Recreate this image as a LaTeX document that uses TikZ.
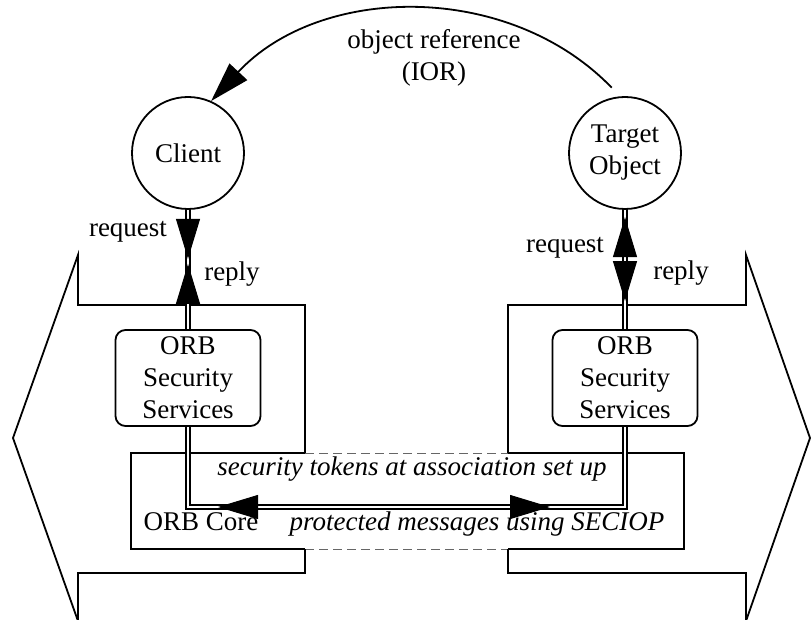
\documentclass[tikz,border=0pt]{standalone}
\usepackage{fontspec}
\setmainfont{Liberation Serif}
\usepackage{tikz}
\usetikzlibrary{arrows.meta, decorations.markings}
\tikzstyle{objet} = [circle, draw, line width=1.8pt, minimum size=112pt, inner sep=0pt, align=center]
\tikzstyle{service} = [rectangle, draw, rounded corners=10pt, line width=1.8pt, minimum width=145pt, minimum height=96pt, inner sep=0pt, align=center]
\tikzstyle{contour} = [line width=1.8pt, line join=miter]
\tikzstyle{tunnel} = [draw=black!60, line width=1pt, dash pattern=on 9pt off 5pt]
\tikzstyle{canal} = [double, double distance=2.6pt, line width=1.7pt]
\tikzstyle{fleche} = [->, line width=1.8pt]
\tikzset{tetes/.style 2 args={line width=1pt, postaction={decorate}, decoration={markings,
	mark=at position #1 with {\arrow{>}},
	mark=at position #2 with {\arrowreversed{>}}}}}

\begin{document}
\begin{tikzpicture}[thick, x=1pt, y=1pt, font=\fontsize{27}{32}\selectfont, >={Triangle[length=40pt,width=24pt]}]
	\useasboundingbox (0,0) rectangle (811,619);

	\node[objet] (client) at (188,466) {Client};
	\node[objet] (target) at (625,466) {Target\\Object};

	\node[service] (lsec) at (188,241) {ORB\\Security\\Services};
	\node[service] (rsec) at (625,241) {ORB\\Security\\Services};

	\coordinate (lt) at (305,166);
	\coordinate (rt) at (508,166);
	\coordinate (lb) at (305,70);
	\coordinate (rb) at (508,70);
	\coordinate (lcorner) at (188,112);
	\coordinate (rcorner) at (625,112);

	% ORB core
	\draw[contour] (lt) -- (131,166) -- (131,70) -- (lb);
	\draw[contour] (rt) -- (684,166) -- (684,70) -- (rb);
	\draw[tunnel] (lt) -- (rt);
	\draw[tunnel] (lb) -- (rb);

	\draw[contour] (lt) -- (305,314) -- (78,314) -- (78,364) -- (13,181) -- (78,-2) -- (78,46) -- (305,46) -- (lb);
	\draw[contour] (rt) -- (508,314) -- (746,314) -- (746,364) -- (810,181) -- (746,-2) -- (746,46) -- (508,46) -- (rb);

	\node[anchor=base] (core) at (201,89) {ORB Core};
	\node[anchor=base] (tokens) at (412,144) {\itshape security tokens at association set up};
	\node[anchor=base] (seciop) at (477,89) {\itshape protected messages using SECIOP};

	\draw[canal] (client) -- (lsec);
	\draw[canal] (lsec) -- (lcorner) -- (rcorner) -- (rsec);
	\draw[canal] (rsec) -- (target);

	\path[tetes={49pt}{54pt}] (client.south) -- (lsec.north);
	\path[tetes={112pt}{28pt}] (rsec.north) -- (target.south);
	\path[tetes={362pt}{30pt}] (lcorner) -- (rcorner);

	\node[anchor=base] (reqc) at (128,382) {request};
	\node[anchor=base] (repc) at (232,338) {reply};
	\node[anchor=base] (reqt) at (565,366) {request};
	\node[anchor=base] (rept) at (681,339) {reply};

	\draw[fleche, shorten <=12pt] (target.95) to[out=134, in=47] (client.66);
	\node[align=center] (ior) at (434,561) {object reference\\(IOR)};

\end{tikzpicture}
\end{document}
